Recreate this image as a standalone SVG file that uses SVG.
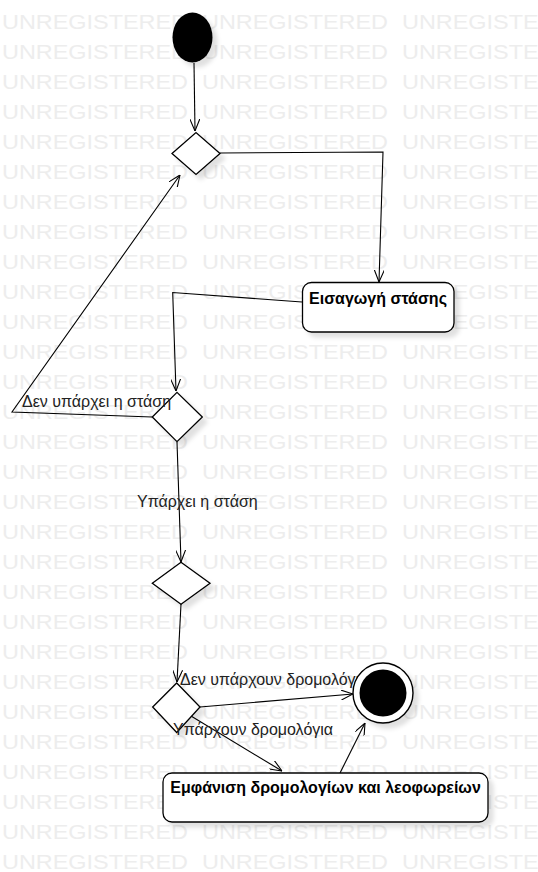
<svg xmlns="http://www.w3.org/2000/svg" xmlns:xlink="http://www.w3.org/1999/xlink" width="538" height="872" viewBox="0 0 538 872">
<style>
.wm{font-family:"Liberation Sans",Arial,sans-serif;font-size:20px;fill:#ededed}
.node{fill:#fff;stroke:#000;stroke-width:1.3}
.edge{fill:none;stroke:#000;stroke-width:1.1}
.lbl{font-family:"Liberation Sans",Arial,sans-serif;font-size:16px;fill:#222}
.nt{font-family:"Liberation Sans",Arial,sans-serif;font-size:16px;font-weight:bold;fill:#000;text-anchor:middle}
</style>
<defs>
<filter id="sh" x="-30%" y="-30%" width="170%" height="170%">
<feGaussianBlur in="SourceAlpha" stdDeviation="2"/>
<feOffset dx="5" dy="5" result="b"/>
<feFlood flood-color="#000" flood-opacity="0.12"/>
<feComposite in2="b" operator="in"/>
<feMerge><feMergeNode/><feMergeNode in="SourceGraphic"/></feMerge>
</filter>
<marker id="arr" markerUnits="userSpaceOnUse" viewBox="0 0 12 10" refX="12" refY="5" markerWidth="12" markerHeight="10" orient="auto">
<path d="M0,0 L12,5 L0,10" fill="none" stroke="#000" stroke-width="1.1"/>
</marker>
<text id="wmt" class="wm" textLength="186" lengthAdjust="spacingAndGlyphs">UNREGISTERED</text>
<g id="wmrow"><use xlink:href="#wmt" x="2"/><use xlink:href="#wmt" x="202"/><use xlink:href="#wmt" x="402"/></g>
</defs>
<rect width="538" height="872" fill="#fff"/>
<g id="watermark">
<use xlink:href="#wmrow" y="29"/><use xlink:href="#wmrow" y="59"/><use xlink:href="#wmrow" y="89"/><use xlink:href="#wmrow" y="119"/><use xlink:href="#wmrow" y="149"/><use xlink:href="#wmrow" y="179"/><use xlink:href="#wmrow" y="209"/><use xlink:href="#wmrow" y="239"/><use xlink:href="#wmrow" y="269"/><use xlink:href="#wmrow" y="299"/><use xlink:href="#wmrow" y="329"/><use xlink:href="#wmrow" y="359"/><use xlink:href="#wmrow" y="389"/><use xlink:href="#wmrow" y="419"/><use xlink:href="#wmrow" y="449"/><use xlink:href="#wmrow" y="479"/><use xlink:href="#wmrow" y="509"/><use xlink:href="#wmrow" y="539"/><use xlink:href="#wmrow" y="569"/><use xlink:href="#wmrow" y="599"/><use xlink:href="#wmrow" y="629"/><use xlink:href="#wmrow" y="659"/><use xlink:href="#wmrow" y="689"/><use xlink:href="#wmrow" y="719"/><use xlink:href="#wmrow" y="749"/><use xlink:href="#wmrow" y="779"/><use xlink:href="#wmrow" y="809"/><use xlink:href="#wmrow" y="839"/><use xlink:href="#wmrow" y="869"/>
</g>
<g id="connectors">
<path class="edge" marker-end="url(#arr)" d="M194,63 L195,131"/>
<path class="edge" marker-end="url(#arr)" d="M220,153 L383,152 L379,282"/>
<path class="edge" marker-end="url(#arr)" d="M302,302 L172.7,292.5 L176,391"/>
<path class="edge" marker-end="url(#arr)" d="M152,417 L12,412 L180,175"/>
<path class="edge" marker-end="url(#arr)" d="M177,442 L181,562"/>
<path class="edge" marker-end="url(#arr)" d="M181,604 L177,682"/>
<path class="edge" marker-end="url(#arr)" d="M200,707 L353,694"/>
<path class="edge" marker-end="url(#arr)" d="M191,716 L282,771"/>
<path class="edge" marker-end="url(#arr)" d="M340,773 L365,723"/>
</g>
<g id="start">
<ellipse cx="192.5" cy="37.5" rx="20" ry="25" fill="#000" filter="url(#sh)"/>
</g>
<g id="decision1">
<polygon class="node" filter="url(#sh)" points="172,153.5 196,132.5 220,153.5 196,174.5"/>
</g>
<g id="task-eisagogi">
<rect class="node" filter="url(#sh)" x="302.5" y="282.5" width="151.5" height="49.5" rx="9"/>
<text class="nt" x="378" y="304">Εισαγωγή στάσης</text>
</g>
<g id="decision2">
<polygon class="node" filter="url(#sh)" points="152.3,417 177,392.3 202.3,417 177,441.7"/>
</g>
<g id="decision3">
<polygon class="node" filter="url(#sh)" points="152.3,583.3 181,562.3 210,583.3 181,604.3"/>
</g>
<g id="decision4">
<polygon class="node" filter="url(#sh)" points="152.7,707 176.7,683 200,707 176.7,732.5"/>
</g>
<g id="task-emfanisi">
<rect class="node" filter="url(#sh)" x="163" y="773" width="325" height="49" rx="9"/>
<text class="nt" x="325.5" y="793">Εμφάνιση δρομολογίων και λεοφωρείων</text>
</g>
<g id="edge-labels">
<text class="lbl" x="22" y="407">Δεν υπάρχει η στάση</text>
<text class="lbl" x="137" y="507">Υπάρχει η στάση</text>
<text class="lbl" x="180" y="685">Δεν υπάρχουν δρομολόγια</text>
<text class="lbl" x="173" y="735">Υπάρχουν δρομολόγια</text>
</g>
<g id="end">
<circle cx="383" cy="693" r="30" fill="#fff" stroke="#000" stroke-width="1.4" filter="url(#sh)"/>
<circle cx="383" cy="693" r="23.5" fill="#000"/>
</g>
</svg>
